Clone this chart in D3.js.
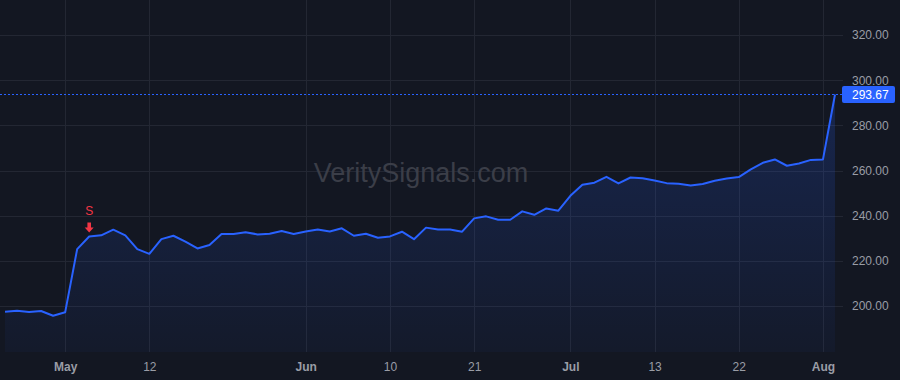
<!DOCTYPE html>
<html>
<head>
<meta charset="utf-8">
<script src="https://cdn.jsdelivr.net/npm/d3@7"></script>
<style>
  html, body { margin: 0; padding: 0; background: #131722; }
  svg { display: block; font-family: "Liberation Sans", Arial, sans-serif; }
</style>
</head>
<body>
<div id="chart"></div>
<script>
// daily closes, one per trading day
var closes = [
  197.5, 197.9, 197.3, 197.8, 195.7, 197.2, 225.2, 230.8, 231.3, 233.8,
  231.3, 225.2, 223.1, 229.6, 231.1, 228.5, 225.5, 227.0, 231.9, 231.9,
  232.7, 231.7, 232.0, 233.2, 231.9, 233.0, 233.9, 233.0, 234.4, 231.1,
  232.0, 230.2, 230.8, 232.9, 229.6, 234.7, 233.9, 233.9, 232.9, 238.8,
  239.7, 238.2, 238.2, 241.9, 240.4, 243.2, 242.2, 248.8, 253.7, 254.6,
  257.2, 254.3, 256.9, 256.6, 255.6, 254.4, 254.1, 253.4, 254.0, 255.5,
  256.5, 257.1, 260.5, 263.4, 264.9, 262.1, 263.1, 264.7, 264.9, 293.67
];

// time axis: bar index -> label (month starts are bold)
var timeTickIndex = [5, 12, 25, 32, 39, 47, 54, 61, 68];
var timeTickLabel = ["May", "12", "Jun", "10", "21", "Jul", "13", "22", "Aug"];
var monthLabels = ["May", "Jun", "Jul", "Aug"];

var priceTicks = [200, 220, 240, 260, 280, 300, 320];

// signal markers
var signalIndex = [7];
var signalLabel = ["S"];

var watermark = "VeritySignals.com";

var width = 900, height = 380;
var plotRight = 843, plotBottom = 352;

var svg = d3.select("#chart").append("svg")
  .attr("width", width)
  .attr("height", height);

svg.append("rect")
  .attr("width", width).attr("height", height)
  .attr("fill", "#131722");

var x = d3.scaleLinear()
  .domain([0, closes.length - 1])
  .range([5, 835]);

var y = d3.scaleLinear()
  .domain([200, 320])
  .range([306, 35]);

// gradient for the area
var defs = svg.append("defs");
var grad = defs.append("linearGradient")
  .attr("id", "areaFill")
  .attr("x1", 0).attr("y1", 0).attr("x2", 0).attr("y2", 1);
grad.append("stop").attr("offset", "0%").attr("stop-color", "#2962ff").attr("stop-opacity", 0.2);
grad.append("stop").attr("offset", "100%").attr("stop-color", "#2962ff").attr("stop-opacity", 0.04);

// grid
var grid = svg.append("g");
grid.selectAll(".hgrid")
  .data(priceTicks)
  .enter().append("line")
  .attr("x1", 0).attr("x2", plotRight)
  .attr("y1", function (d) { return Math.round(y(d)) + 0.5; })
  .attr("y2", function (d) { return Math.round(y(d)) + 0.5; })
  .attr("stroke", "#232733");
grid.selectAll(".vgrid")
  .data(timeTickIndex)
  .enter().append("line")
  .attr("y1", 0).attr("y2", plotBottom)
  .attr("x1", function (d) { return Math.round(x(d)) + 0.5; })
  .attr("x2", function (d) { return Math.round(x(d)) + 0.5; })
  .attr("stroke", "#232733");

// watermark
svg.append("text")
  .attr("x", 421).attr("y", 182)
  .attr("text-anchor", "middle")
  .attr("font-size", 27)
  .attr("fill", "#3b3e48")
  .text(watermark);

// area + line
var area = d3.area()
  .x(function (d, i) { return x(i); })
  .y0(plotBottom)
  .y1(function (d) { return y(d); });

var line = d3.line()
  .x(function (d, i) { return x(i); })
  .y(function (d) { return y(d); });

svg.append("path")
  .datum(closes)
  .attr("d", area)
  .attr("fill", "url(#areaFill)");

svg.append("path")
  .datum(closes)
  .attr("d", line)
  .attr("fill", "none")
  .attr("stroke", "#2962ff")
  .attr("stroke-width", 2)
  .attr("stroke-linejoin", "round");

// last price line + label
var last = closes[closes.length - 1];
var lastY = Math.round(y(last)) + 0.5;
svg.append("line")
  .attr("x1", 0).attr("x2", plotRight)
  .attr("y1", lastY).attr("y2", lastY)
  .attr("stroke", "#2962ff")
  .attr("stroke-dasharray", "2,2");

// price axis
var yAxis = d3.axisRight(y)
  .tickValues(priceTicks)
  .tickSize(0)
  .tickPadding(0)
  .tickFormat(function (d) { return d.toFixed(2); });

var yAxisG = svg.append("g")
  .attr("transform", "translate(852,0)")
  .call(yAxis);
yAxisG.select(".domain").remove();
yAxisG.selectAll("text")
  .attr("font-size", 12)
  .attr("font-family", "Liberation Sans, Arial, sans-serif")
  .attr("fill", "#9a9da6");

svg.append("rect")
  .attr("x", 842).attr("y", lastY - 8.5)
  .attr("width", 53).attr("height", 17)
  .attr("rx", 2)
  .attr("fill", "#2962ff");
svg.append("text")
  .attr("x", 852).attr("y", lastY)
  .attr("dy", "0.35em")
  .attr("font-size", 12)
  .attr("fill", "#ffffff")
  .text(last.toFixed(2));

// time axis
var xAxis = d3.axisBottom(x)
  .tickValues(timeTickIndex)
  .tickSize(0)
  .tickPadding(0)
  .tickFormat(function (d, i) { return timeTickLabel[i]; });

var xAxisG = svg.append("g")
  .attr("transform", "translate(0," + (plotBottom + 10) + ")")
  .call(xAxis);
xAxisG.select(".domain").remove();
xAxisG.selectAll("text")
  .attr("font-size", 12)
  .attr("font-family", "Liberation Sans, Arial, sans-serif")
  .attr("fill", "#9a9da6")
  .attr("font-weight", function (d, i) {
    return monthLabels.indexOf(timeTickLabel[i]) >= 0 ? "bold" : "normal";
  });

// signal markers
var sig = svg.selectAll(".signal")
  .data(signalIndex)
  .enter().append("g")
  .attr("class", "signal")
  .attr("transform", function (d) {
    return "translate(" + x(d) + "," + (y(closes[d]) - 4) + ")";
  });

sig.append("path")
  .attr("d", "M-1.8,-10 L1.8,-10 L1.8,-5 L4.5,-5 L0,0 L-4.5,-5 L-1.8,-5 Z")
  .attr("fill", "#f23645");

sig.append("text")
  .attr("y", -22)
  .attr("dy", "0.35em")
  .attr("text-anchor", "middle")
  .attr("font-size", 12)
  .attr("fill", "#f23645")
  .text(function (d, i) { return signalLabel[i]; });
</script>
</body>
</html>
